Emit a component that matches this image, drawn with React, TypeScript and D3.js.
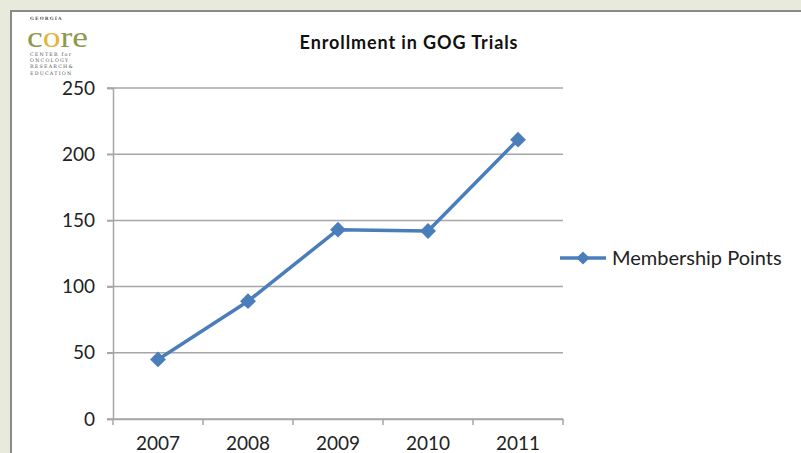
import * as d3 from "d3";
import { useEffect, useRef } from "react";

const years = ["2007", "2008", "2009", "2010", "2011"];
const membershipPoints = [45, 89, 143, 142, 211];
const yTicks = [0, 50, 100, 150, 200, 250];
const seriesName = "Membership Points";
const chartTitle = "Enrollment in GOG Trials";

export default function App() {
  const svgRef = useRef<SVGSVGElement>(null);

  useEffect(() => {
    if (!svgRef.current) return;
    const svg = d3.select(svgRef.current);
    svg.selectAll("*").remove();

    const W = 801;
    const H = 453;
    const font = "Lato, 'Open Sans', sans-serif";
    const blue = "#4a7ebb";

    // page background and chart frame
    svg.append("rect").attr("width", W).attr("height", H).attr("fill", "#e8ebdb");
    svg
      .append("rect")
      .attr("x", 11)
      .attr("y", 11)
      .attr("width", W + 20)
      .attr("height", H + 20)
      .attr("fill", "#fff")
      .attr("stroke", "#8a8a8a")
      .attr("stroke-width", 2);

    // logo
    const logo = svg.append("g").attr("font-family", "'DejaVu Serif', serif");
    logo
      .append("text")
      .attr("x", 30)
      .attr("y", 19.5)
      .attr("font-size", 4.5)
      .attr("font-weight", "bold")
      .attr("letter-spacing", 1.2)
      .attr("fill", "#555")
      .text("GEORGIA");
    const core = logo
      .append("text")
      .attr("x", 27)
      .attr("y", 47)
      .attr("font-size", 29)
      .attr("textLength", 61)
      .attr("lengthAdjust", "spacingAndGlyphs")
      .attr("font-family", "'Liberation Serif', serif")
      .attr("fill", "#8c9a4c");
    core.append("tspan").text("c");
    core.append("tspan").attr("fill", "#e2b43a").text("o");
    core.append("tspan").text("re");
    ["CENTER for", "ONCOLOGY", "RESEARCH&", "EDUCATION"].forEach((t, i) => {
      logo
        .append("text")
        .attr("x", 30)
        .attr("y", 56 + i * 6.2)
        .attr("font-size", 4.8)
        .attr("letter-spacing", 1.2)
        .attr("fill", "#555")
        .text(t);
    });

    // title
    svg
      .append("text")
      .attr("x", 409)
      .attr("y", 49)
      .attr("text-anchor", "middle")
      .attr("font-family", font)
      .attr("font-size", 18)
      .attr("font-weight", "bold")
      .attr("letter-spacing", 0.9)
      .attr("fill", "#111")
      .text(chartTitle);

    const left = 113;
    const right = 563;
    const top = 88;
    const bottom = 419;

    const x = d3.scaleBand().domain(years).range([left, right]);
    const y = d3.scaleLinear().domain([0, 250]).range([bottom, top]);

    // gridlines
    svg
      .append("g")
      .selectAll("line")
      .data(yTicks)
      .join("line")
      .attr("x1", left - 6)
      .attr("x2", right)
      .attr("y1", (d) => y(d))
      .attr("y2", (d) => y(d))
      .attr("stroke", "#a6a6a6")
      .attr("stroke-width", 1.5);

    // y axis
    const yAxis = svg
      .append("g")
      .attr("transform", `translate(${left},0)`)
      .call(d3.axisLeft(y).tickValues(yTicks).tickSize(6).tickPadding(12));
    yAxis.select(".domain").attr("stroke", "#a6a6a6").attr("stroke-width", 1.5);
    yAxis.selectAll(".tick line").attr("stroke", "#a6a6a6").attr("stroke-width", 1.5);
    yAxis
      .selectAll(".tick text")
      .attr("font-family", font)
      .attr("font-size", 19)
      .attr("fill", "#222");

    // x axis
    const xAxis = svg
      .append("g")
      .attr("transform", `translate(0,${bottom})`)
      .call(d3.axisBottom(x).tickSize(0).tickPadding(18));
    xAxis.select(".domain").attr("stroke", "#a6a6a6").attr("stroke-width", 1.5);
    xAxis
      .selectAll(".tick text")
      .attr("font-family", font)
      .attr("font-size", 19)
      .attr("fill", "#222");
    // category boundary ticks
    xAxis
      .append("g")
      .selectAll("line")
      .data(years.concat(["end"]))
      .join("line")
      .attr("x1", (_, i) => left + i * x.bandwidth())
      .attr("x2", (_, i) => left + i * x.bandwidth())
      .attr("y1", 0)
      .attr("y2", 6)
      .attr("stroke", "#a6a6a6")
      .attr("stroke-width", 1.5);

    const cx = (d: string) => (x(d) ?? 0) + x.bandwidth() / 2;

    // line
    const line = d3
      .line<number>()
      .x((_, i) => cx(years[i]))
      .y((d) => y(d));
    svg
      .append("path")
      .datum(membershipPoints)
      .attr("d", line)
      .attr("fill", "none")
      .attr("stroke", blue)
      .attr("stroke-width", 3.5)
      .attr("stroke-linejoin", "round");

    const diamond = d3.symbol().type(d3.symbolDiamond2).size(160);
    svg
      .append("g")
      .selectAll("path")
      .data(membershipPoints)
      .join("path")
      .attr("d", diamond)
      .attr("transform", (d, i) => `translate(${cx(years[i])},${y(d)})`)
      .attr("fill", blue);

    // legend
    const lg = svg.append("g").attr("transform", "translate(560,258)");
    lg.append("line")
      .attr("x1", 0)
      .attr("x2", 46)
      .attr("stroke", blue)
      .attr("stroke-width", 3.5);
    lg.append("path")
      .attr("d", d3.symbol().type(d3.symbolDiamond2).size(110)())
      .attr("transform", "translate(23,0)")
      .attr("fill", blue);
    lg.append("text")
      .attr("x", 52)
      .attr("y", 7)
      .attr("font-family", font)
      .attr("font-size", 20)
      .attr("fill", "#222")
      .text(seriesName);
  }, []);

  return (
    <svg
      ref={svgRef}
      width={801}
      height={453}
      style={{ position: "absolute", left: 0, top: 0, display: "block" }}
    />
  );
}
